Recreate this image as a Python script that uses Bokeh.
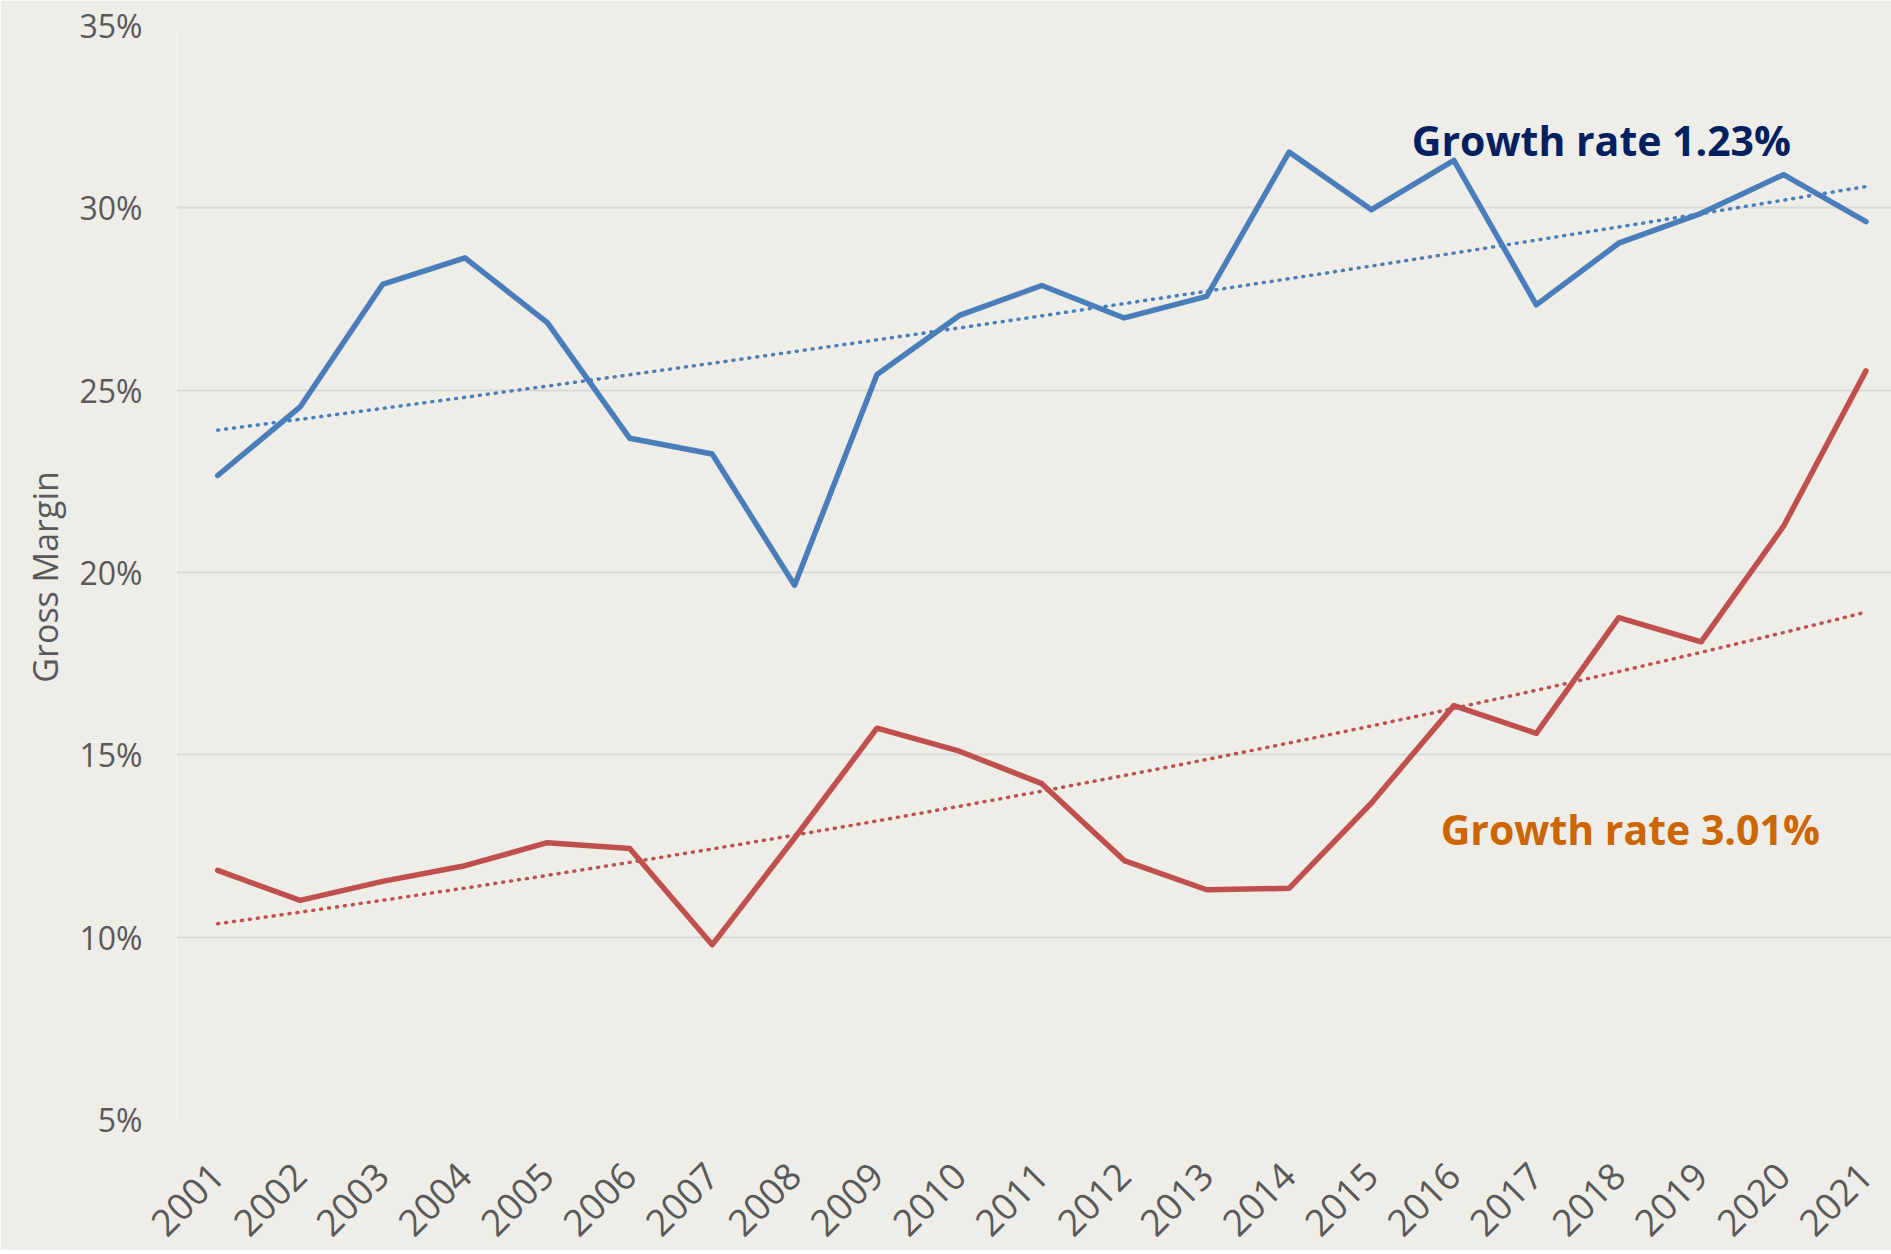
import numpy as np
from bokeh.plotting import figure
from bokeh.models import FixedTicker, Label, Range1d
from bokeh.embed import file_html
from bokeh.resources import INLINE

years = list(range(2001, 2022))
margin_a = [22.66, 24.54, 27.90, 28.63, 26.85, 23.68, 23.25, 19.65, 25.43, 27.05, 27.87,
            26.98, 27.57, 31.53, 29.95, 31.30, 27.34, 29.03, 29.85, 30.91, 29.62]
margin_b = [11.83, 11.01, 11.53, 11.96, 12.59, 12.43, 9.79, 12.72, 15.73, 15.10, 14.21,
            12.10, 11.30, 11.34, 13.68, 16.35, 15.59, 18.76, 18.10, 21.27, 25.53]
y_ticks = [5, 10, 15, 20, 25, 30, 35]
label_a = "Growth rate 1.23%"
label_b = "Growth rate 3.01%"

FONT = "Open Sans"
BG = "#EEEDE8"

def exp_trend(xs, ys):
    x = np.array(xs, dtype=float)
    b, a = np.polyfit(x, np.log(np.array(ys)), 1)
    return list(np.exp(a + b * x))

trend_a = exp_trend(years, margin_a)
trend_b = exp_trend(years, margin_b)

p = figure(width=1891, height=1250, output_backend="svg", toolbar_location=None,
           x_range=Range1d(2000.5, 2021.31), y_range=Range1d(5, 35),
           background_fill_color=BG, border_fill_color=BG,
           min_border_left=176, min_border_right=0, min_border_top=25, min_border_bottom=129)
p.outline_line_color = None

p.xgrid.grid_line_color = None
p.ygrid.grid_line_color = "#DAD9D5"
p.ygrid.grid_line_width = 2

p.yaxis.ticker = FixedTicker(ticks=y_ticks)
p.yaxis.major_label_overrides = {t: f"{t}%" for t in y_ticks}
p.xaxis.ticker = FixedTicker(ticks=years)
p.xaxis.major_label_orientation = np.pi / 4

for ax in (p.xaxis, p.yaxis):
    ax.axis_line_color = None
    ax.major_tick_line_color = None
    ax.minor_tick_line_color = None
    ax.major_label_text_font = FONT
    ax.major_label_text_color = "#595959"
    ax.major_label_text_font_size = "32px"

p.yaxis.major_label_standoff = 28
p.xaxis.major_label_standoff = 44
p.xaxis.major_label_text_font_size = "37px"
p.yaxis.axis_label = "Gross  Margin"
p.yaxis.axis_label_text_font = FONT
p.yaxis.axis_label_text_font_style = "normal"
p.yaxis.axis_label_text_font_size = "34px"
p.yaxis.axis_label_text_color = "#595959"
p.yaxis.axis_label_standoff = 8

p.line(years, trend_a, line_color="#4A7EBB", line_width=3.5, line_dash="1 7", line_cap="round")
p.line(years, trend_b, line_color="#C0504D", line_width=3.5, line_dash="1 7", line_cap="round")
p.line(years, margin_a, line_color="#4A7EBB", line_width=5.5, line_join="round", line_cap="round")
p.line(years, margin_b, line_color="#C0504D", line_width=5.5, line_join="round", line_cap="round")

p.add_layout(Label(x=2017.79, y=31.85, text=label_a, text_align="center", text_baseline="middle",
                   text_font=FONT, text_font_style="bold", text_font_size="41px",
                   text_color="#002060"))
p.add_layout(Label(x=2018.14, y=12.97, text=label_b, text_align="center", text_baseline="middle",
                   text_font=FONT, text_font_style="bold", text_font_size="41px",
                   text_color="#CC6600"))

open("out.html", "w").write(file_html(p, INLINE))
